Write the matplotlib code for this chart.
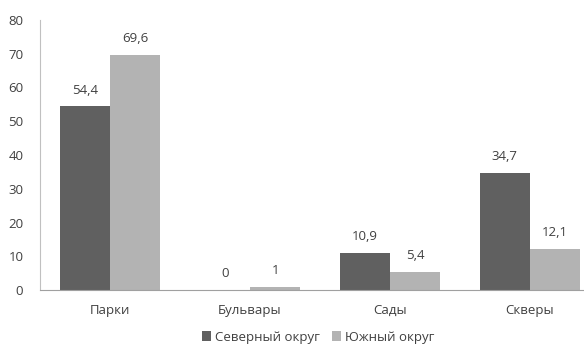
import matplotlib.pyplot as plt
import numpy as np

plt.rcParams['font.family'] = ['Open Sans', 'DejaVu Sans']

categories = ['Парки', 'Бульвары', 'Сады', 'Скверы']
north = [54.4, 0, 10.9, 34.7]
south = [69.6, 1, 5.4, 12.1]
north_labels = ['54,4', '0', '10,9', '34,7']
south_labels = ['69,6', '1', '5,4', '12,1']

text_color = '#404040'

fig = plt.figure(figsize=(5.84, 3.45), dpi=100)
ax = fig.add_axes([40 / 584, 55 / 345, 560 / 584, 270 / 345])

x = np.arange(len(categories))
w = 0.36
b1 = ax.bar(x - w / 2, north, w, color='#606060', label='Северный округ')
b2 = ax.bar(x + w / 2, south, w, color='#b3b3b3', label='Южный округ')

for bars, labels in [(b1, north_labels), (b2, south_labels)]:
    for bar, lab in zip(bars, labels):
        ax.annotate(lab, (bar.get_x() + bar.get_width() / 2, bar.get_height()),
                    xytext=(0, 7), textcoords='offset points',
                    ha='center', va='bottom', fontsize=9.5, color=text_color)

ax.set_xlim(-0.5, 3.5)
ax.set_ylim(0, 80)
ax.set_yticks(range(0, 81, 10))
ax.set_xticks(x)
ax.set_xticklabels(categories)
ax.tick_params(length=0, labelsize=9.5, colors=text_color)
ax.tick_params(axis='x', pad=10)
ax.tick_params(axis='y', pad=12)

for s in ['top', 'right']:
    ax.spines[s].set_visible(False)
ax.spines['left'].set_color('#c0c0c0')
ax.spines['bottom'].set_color('#a0a0a0')

fig.legend(loc='center', bbox_to_anchor=(318 / 584, 1 - 337 / 345), ncol=2,
           frameon=False, fontsize=9.5, handlelength=0.7, handleheight=0.7,
           handletextpad=0.3, columnspacing=0.9, labelcolor=text_color)

fig.savefig('out.png', dpi=100)
